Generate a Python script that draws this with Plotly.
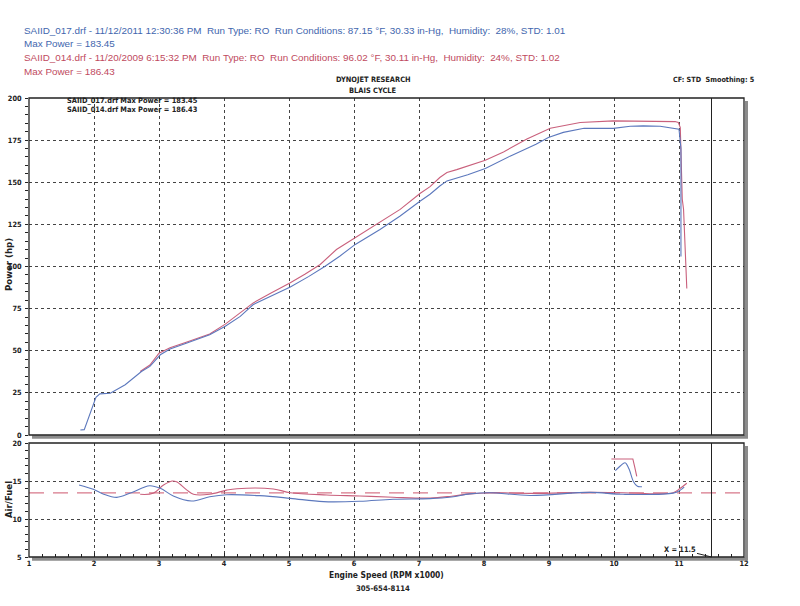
import plotly.graph_objects as go

# ---------------- data ----------------
blue_power_rpm = [1.79, 1.85, 2.03, 2.09, 2.25, 2.35, 2.48, 2.73, 2.86, 3.02, 3.17, 3.43, 3.78, 4.02,
                  4.25, 4.45, 4.71, 5.02, 5.30, 5.55, 5.78, 6.02, 6.40, 6.71, 7.02, 7.17, 7.32, 7.43,
                  7.75, 8.02, 8.40, 8.80, 8.99, 9.22, 9.54, 9.99, 10.25, 10.45, 10.71, 10.86, 10.96,
                  11.00, 11.03, 11.03]
blue_power = [3.0, 3.2, 22.4, 24.4, 24.8, 26.8, 29.8, 37.7, 40.7, 47.6, 51.0, 54.6, 59.5, 64.5,
              70.4, 77.4, 82.3, 87.9, 94.0, 100.0, 106.1, 113.1, 122.0, 130.0, 138.9, 142.9, 147.8, 150.8,
              154.5, 158.1, 165.5, 172.5, 176.6, 179.6, 182.0, 182.0, 183.2, 183.45, 183.2, 182.5, 182.0,
              181.5, 170.0, 106.0]

red_power_rpm = [2.71, 2.86, 3.00, 3.17, 3.43, 3.78, 4.02, 4.25, 4.45, 4.71, 5.02, 5.25, 5.48, 5.73,
                 6.02, 6.40, 6.71, 7.02, 7.17, 7.32, 7.43, 7.58, 8.02, 8.30, 8.66, 9.02, 9.48, 9.99,
                 10.40, 10.76, 10.94, 10.99, 11.02, 11.05, 11.07, 11.12]
red_power = [37.7, 41.5, 48.5, 51.8, 55.2, 60.0, 65.8, 72.4, 78.4, 84.0, 90.3, 95.5, 101.2, 110.1,
             117.1, 126.0, 133.9, 143.5, 147.4, 152.8, 155.8, 157.5, 163.1, 168.0, 175.6, 182.0, 185.5, 186.43,
             186.2, 186.3, 186.0, 185.5, 182.5, 140.0, 134.0, 87.0]

blue_afr_rpm = [1.77, 1.99, 2.14, 2.35, 2.55, 2.75, 2.86, 3.02, 3.22, 3.50, 3.78, 4.04, 4.55, 5.02,
                5.53, 6.09, 6.60, 7.17, 7.50, 7.78, 8.09, 8.71, 9.63, 10.14, 10.91, 11.02, 11.08]
blue_afr = [14.47, 13.9, 13.3, 12.85, 13.38, 14.1, 14.38, 14.04, 13.03, 12.37, 12.93, 13.2, 13.07, 12.72,
            12.28, 12.33, 12.6, 12.68, 12.9, 13.3, 13.46, 13.1, 13.5, 13.25, 13.4, 13.8, 14.2]

red_afr_rpm = [2.71, 2.91, 3.07, 3.20, 3.27, 3.43, 3.53, 3.78, 4.04, 4.20, 4.76, 5.02, 5.58, 6.09,
               6.60, 7.17, 7.50, 7.78, 8.09, 8.71, 9.63, 10.14, 10.91, 11.02, 11.12]
red_afr = [13.25, 13.38, 14.47, 15.0, 14.9, 13.8, 13.25, 13.25, 13.8, 13.99, 13.95, 13.46, 13.16, 13.03,
           12.86, 12.75, 13.0, 13.3, 13.46, 13.37, 13.5, 13.46, 13.46, 14.04, 14.7]

blue_afr_extra_rpm = [10.02, 10.10, 10.17, 10.23, 10.30, 10.36, 10.43]
blue_afr_extra = [16.36, 17.0, 17.4, 16.6, 14.9, 14.3, 14.25]
red_afr_extra_rpm = [9.96, 10.29, 10.32, 10.35]
red_afr_extra = [17.9, 17.9, 16.8, 15.6]

target_afr_rpm = [1, 12]
target_afr = [13.45, 13.45]

marker_rpm = 11.5
afr_min = 5

x_ticks = list(range(1, 13))
power_ticks = list(range(0, 201, 25))
afr_ticks = [5, 10, 15, 20]

header_blue_1 = "SAIID_017.drf - 11/12/2011 12:30:36 PM&nbsp; Run Type: RO&nbsp; Run Conditions: 87.15 \u00b0F, 30.33 in-Hg,&nbsp; Humidity:&nbsp; 28%, STD: 1.01"
header_blue_2 = "Max Power = 183.45"
header_red_1 = "SAIID_014.drf - 11/20/2009 6:15:32 PM&nbsp; Run Type: RO&nbsp; Run Conditions: 96.02 \u00b0F, 30.11 in-Hg,&nbsp; Humidity:&nbsp; 24%, STD: 1.02"
header_red_2 = "Max Power = 186.43"
legend_lines = ["SAIID_017.drf Max Power = 183.45", "SAIID_014.drf Max Power = 186.43"]

# ---------------- style ----------------
BLUE_TXT = "#4266ae"
RED_TXT = "#c04a5e"
BLUE_LINE = "#5c78bd"
RED_LINE = "#c9607c"
HEAD_FONT = "Liberation Sans, Arial"
CH_FONT = "DejaVu Sans Condensed, DejaVu Sans, Verdana"

W, H = 800, 606
L, R, T, B = 29, 56, 98, 49
PW, PH = W - L - R, H - T - B


def px_x(p):
    return (p - L) / PW


def px_y(p):
    return (H - B - p) / PH


top_dom = [px_y(435), 1.0]
bot_dom = [0.0, px_y(443)]

fig = go.Figure()
lw = 1.1
fig.add_trace(go.Scatter(x=red_power_rpm, y=red_power, mode="lines",
                         line=dict(color=RED_LINE, width=lw), xaxis="x", yaxis="y"))
fig.add_trace(go.Scatter(x=blue_power_rpm, y=blue_power, mode="lines",
                         line=dict(color=BLUE_LINE, width=lw), xaxis="x", yaxis="y"))
fig.add_trace(go.Scatter(x=target_afr_rpm, y=target_afr, mode="lines",
                         line=dict(color="#d8788a", width=1.3, dash="15px,9px"), xaxis="x2", yaxis="y2"))
fig.add_trace(go.Scatter(x=red_afr_rpm, y=red_afr, mode="lines",
                         line=dict(color=RED_LINE, width=lw, shape="spline"), xaxis="x2", yaxis="y2"))
fig.add_trace(go.Scatter(x=blue_afr_rpm, y=blue_afr, mode="lines",
                         line=dict(color=BLUE_LINE, width=lw, shape="spline"), xaxis="x2", yaxis="y2"))
fig.add_trace(go.Scatter(x=red_afr_extra_rpm, y=red_afr_extra, mode="lines",
                         line=dict(color=RED_LINE, width=lw), xaxis="x2", yaxis="y2"))
fig.add_trace(go.Scatter(x=blue_afr_extra_rpm, y=blue_afr_extra, mode="lines",
                         line=dict(color=BLUE_LINE, width=lw, shape="spline"), xaxis="x2", yaxis="y2"))

tickfont = dict(family=CH_FONT, size=7.3, color="#222", weight="bold")
grid = dict(showgrid=True, gridcolor="#444", griddash="dot", gridwidth=1)

fig.update_layout(
    width=W, height=H,
    margin=dict(l=L, r=R, t=T, b=B, autoexpand=False),
    paper_bgcolor="white", plot_bgcolor="white", showlegend=False,
    xaxis=dict(domain=[0, 1], range=[1, 12], anchor="y", tickvals=x_ticks, showticklabels=False,
               ticks="", zeroline=False, showline=False, **grid),
    yaxis=dict(domain=top_dom, range=[0, 200], anchor="x", tickvals=power_ticks, tickfont=tickfont,
               ticks="outside", ticklen=3, tickcolor="#222", zeroline=False, showline=False, ticklabelstandoff=2,
               minor=dict(dtick=5, ticks="outside", ticklen=3, tickcolor="#222", showgrid=False), **grid),
    xaxis2=dict(domain=[0, 1], range=[1, 12], anchor="y2", tickvals=x_ticks, tickfont=tickfont,
                ticks="inside", ticklen=4, tickcolor="#222", zeroline=False, showline=False, ticklabelstandoff=1,
                minor=dict(dtick=0.2, tick0=1, ticks="inside", ticklen=3, tickcolor="#222", showgrid=False), **grid),
    yaxis2=dict(domain=bot_dom, range=[5, 20], anchor="x2", tickvals=afr_ticks, tickfont=tickfont,
                ticks="outside", ticklen=3, tickcolor="#222", zeroline=False, showline=False, ticklabelstandoff=2,
                minor=dict(dtick=1, ticks="outside", ticklen=3, tickcolor="#222", showgrid=False), **grid),
)

shapes = []
# frames with shadow
for (y0, y1) in [(98, 435), (443, 557)]:
    shapes.append(dict(type="line", xref="paper", yref="paper", x0=px_x(32), x1=px_x(748),
                       y0=px_y(y1 + 2), y1=px_y(y1 + 2), line=dict(color="#8c8c8c", width=3.5), layer="below"))
    shapes.append(dict(type="line", xref="paper", yref="paper", x0=px_x(746.5), x1=px_x(746.5),
                       y0=px_y(y0 + 3), y1=px_y(y1 + 2), line=dict(color="#8c8c8c", width=3), layer="below"))
    shapes.append(dict(type="rect", xref="paper", yref="paper", x0=0, x1=1,
                       y0=px_y(y1), y1=px_y(y0), line=dict(color="#222", width=1.3)))
# vertical cursor line
shapes.append(dict(type="line", xref="x", yref="y domain", x0=marker_rpm, x1=marker_rpm, y0=0, y1=1,
                   line=dict(color="#222", width=1)))
shapes.append(dict(type="line", xref="x2", yref="y2 domain", x0=marker_rpm, x1=marker_rpm, y0=0, y1=1,
                   line=dict(color="#222", width=1)))
fig.update_layout(shapes=shapes)

ann = []


def text(s, xp, yp, size, color="#222", family=CH_FONT, weight="bold", xanchor="center", angle=0):
    ann.append(dict(text=s, xref="paper", yref="paper", x=px_x(xp), y=px_y(yp), showarrow=False,
                    xanchor=xanchor, yanchor="middle", textangle=angle,
                    font=dict(family=family, size=size, color=color, weight=weight)))


HS = 9.9
text(header_blue_1, 22, 30, HS, BLUE_TXT, HEAD_FONT, "normal", "left")
text(header_blue_2, 22, 43, HS, BLUE_TXT, HEAD_FONT, "normal", "left")
text(header_red_1, 22, 58, HS, RED_TXT, HEAD_FONT, "normal", "left")
text(header_red_2, 22, 71, HS, RED_TXT, HEAD_FONT, "normal", "left")
text("DYNOJET RESEARCH", 373, 80, 7.4)
text("BLAIS CYCLE", 373, 91, 7.4)
text("CF: STD&nbsp; Smoothing: 5", 757, 79, 7.2, xanchor="right")
text(legend_lines[0], 65, 101, 7.4, xanchor="left")
text(legend_lines[1], 65, 109, 7.4, xanchor="left")
text("Power (hp)", 8, 265, 9.5, angle=-90)
text("Air/Fuel", 8, 500, 9.5, angle=-90)
text("Engine Speed (RPM x1000)", 386, 575, 8.4)
text("305-654-8114", 383, 588, 7.7)

ann.append(dict(text="X = 11.5", xref="x2", yref="y2", x=marker_rpm, y=afr_min, showarrow=True,
                arrowhead=0, arrowwidth=1, arrowcolor="#222", ax=-32, ay=-8, xanchor="center",
                font=dict(family=CH_FONT, size=7.4, color="#222", weight="bold")))
fig.update_layout(annotations=ann)

fig.write_html("out.html", config={"displayModeBar": False},
               post_script="document.body.style.margin='0px';document.body.style.overflow='hidden';")
